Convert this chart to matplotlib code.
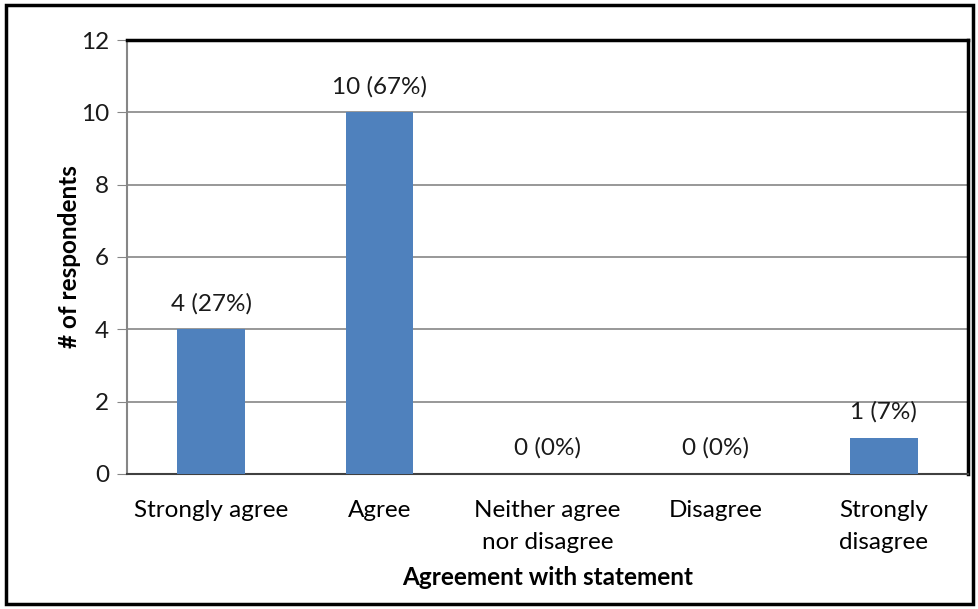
import matplotlib.pyplot as plt
import numpy as np

plt.rcParams['font.family'] = ['Lato', 'DejaVu Sans']
plt.rcParams['text.color'] = '#1a1a1a'

categories = ['Strongly agree', 'Agree', 'Neither agree\nnor disagree', 'Disagree', 'Strongly\ndisagree']
counts = [4, 10, 0, 0, 1]
percents = [27, 67, 0, 0, 7]
yticks = [0, 2, 4, 6, 8, 10, 12]

fs = 17.5

fig = plt.figure(figsize=(9.79, 6.09), dpi=100)
ax = fig.add_axes([0.1297, 0.2217, 0.8591, 0.7126])

x = np.arange(len(categories))
ax.bar(x, counts, width=0.4, color='#4F81BD', zorder=3)

# value labels above each bar
for xi, c, p in zip(x, counts, percents):
    ax.text(xi, c + 0.42, f'{c} ({p}%)', ha='center', va='bottom', fontsize=fs)

ax.set_xlim(-0.5, len(categories) - 0.5)
ax.set_ylim(0, 12)
ax.set_yticks(yticks)
ax.yaxis.grid(True, color='#868686', linewidth=1.2, zorder=0)
ax.set_xticks(x)
ax.set_xticklabels(categories, fontsize=fs, linespacing=1.6)
ax.tick_params(axis='x', length=0, pad=19)
ax.tick_params(axis='y', length=7, color='#868686', labelsize=fs, pad=6, labelcolor='#1a1a1a')

for side in ['top', 'right']:
    ax.spines[side].set_color('black')
    ax.spines[side].set_linewidth(2.5)
ax.spines['left'].set_color('#868686')
ax.spines['left'].set_linewidth(1.5)
ax.spines['bottom'].set_color('#404040')
ax.spines['bottom'].set_linewidth(1.5)

ax.set_ylabel('# of respondents', fontsize=fs, fontweight='bold', labelpad=0)
ax.set_xlabel('Agreement with statement', fontsize=fs, fontweight='bold', labelpad=10)

# outer frame around the chart
fig.patches.append(plt.Rectangle((0.006, 0.008), 0.988, 0.984, transform=fig.transFigure,
                                 fill=False, edgecolor='black', linewidth=2.5))

fig.savefig('out.png', dpi=100)
